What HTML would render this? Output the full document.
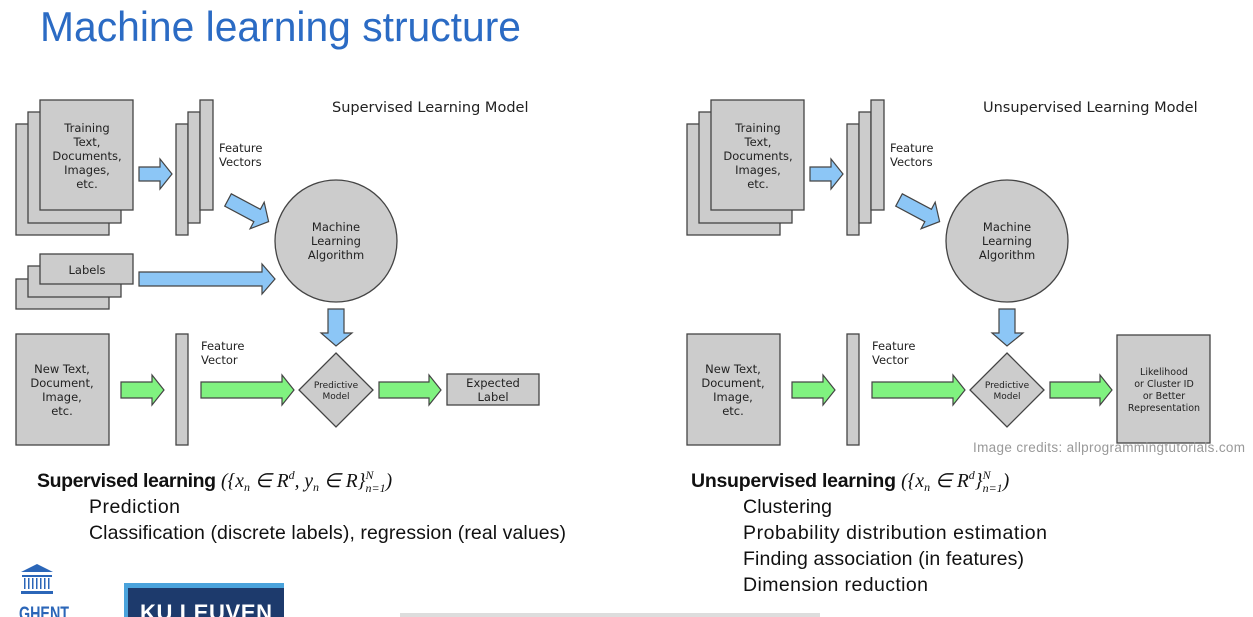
<!DOCTYPE html>
<html><head><meta charset="utf-8"><style>
html,body{margin:0;padding:0;background:#fff;width:1253px;height:617px;overflow:hidden}
svg{display:block}
.d{font-family:"DejaVu Sans",sans-serif;font-size:11.5px;fill:#222}
.b{font-family:"Liberation Sans",sans-serif;font-size:19.5px;fill:#111}
</style></head><body>
<svg width="1253" height="617" viewBox="0 0 1253 617" xmlns="http://www.w3.org/2000/svg">
<defs>
<g id="docs" fill="#ccc" stroke="#444" stroke-width="1.3">
<rect x="16" y="124" width="93" height="111"/><rect x="28" y="112" width="93" height="111"/><rect x="40" y="100" width="93" height="110"/>
<rect x="176" y="124" width="12" height="111"/><rect x="188" y="112" width="12" height="111"/><rect x="200" y="100" width="13" height="110"/>
<circle cx="336" cy="241" r="61"/>
<rect x="16" y="334" width="93" height="111"/>
<rect x="176" y="334" width="12" height="111"/>
<polygon points="336,353 373,390 336,427 299,390"/>
</g>
<g id="arr" stroke="#444" stroke-width="1.2">
<polygon fill="#8cc6f6" points="139,167 160,167 160,159 172,174 160,189 160,181 139,181"/>
<polygon fill="#8cc6f6" points="0,-7 33,-7 33,-15 46,0 33,15 33,7 0,7" transform="translate(228,200) rotate(28)"/>
<polygon fill="#8cc6f6" points="328,309 344,309 344,333 352,333 336,346 321,333 328,333"/>
<polygon fill="#80f280" points="121,382 152,382 152,375 164,390 152,405 152,398 121,398"/>
<polygon fill="#80f280" points="201,382 282,382 282,375 294,390 282,405 282,398 201,398"/>
</g>
</defs>

<text x="40" y="41" font-family="Liberation Sans,sans-serif" font-size="42" fill="#2b6bc4" textLength="481" lengthAdjust="spacingAndGlyphs">Machine learning structure</text>

<!-- left -->
<use href="#docs"/><use href="#arr"/>
<g fill="#ccc" stroke="#444" stroke-width="1.3">
<rect x="16" y="279" width="93" height="30"/><rect x="28" y="266" width="93" height="31"/><rect x="40" y="254" width="93" height="30"/>
</g>
<polygon fill="#8cc6f6" stroke="#444" stroke-width="1.2" points="139,272 262,272 262,264 275,279 262,294 262,286 139,286"/>
<polygon fill="#80f280" stroke="#444" stroke-width="1.2" points="379,382 429,382 429,375 441,390 429,405 429,398 379,398"/>
<rect x="447" y="374" width="92" height="31" fill="#ccc" stroke="#444" stroke-width="1.3"/>
<g class="d" text-anchor="middle">
<text x="87" y="132">Training</text><text x="87" y="146">Text,</text><text x="87" y="160">Documents,</text><text x="87" y="174">Images,</text><text x="87" y="188">etc.</text>
<text x="87" y="274">Labels</text>
<text x="336" y="231">Machine</text><text x="336" y="245">Learning</text><text x="336" y="259">Algorithm</text>
<text x="62" y="373">New Text,</text><text x="62" y="387">Document,</text><text x="62" y="401">Image,</text><text x="62" y="415">etc.</text>
<text x="336" y="388" font-size="9">Predictive</text><text x="336" y="399" font-size="9">Model</text>
<text x="493" y="387">Expected</text><text x="493" y="401">Label</text>
</g>
<g class="d"><text x="219" y="152">Feature</text><text x="219" y="166">Vectors</text><text x="201" y="350">Feature</text><text x="201" y="364">Vector</text>
<text x="332" y="112" font-size="14.5">Supervised Learning Model</text></g>

<!-- right -->
<g transform="translate(671,0)"><use href="#docs"/><use href="#arr"/></g>
<polygon fill="#80f280" stroke="#444" stroke-width="1.2" points="1050,382 1100,382 1100,375 1112,390 1100,405 1100,398 1050,398"/>
<rect x="1117" y="335" width="93" height="108" fill="#ccc" stroke="#444" stroke-width="1.3"/>
<g class="d" text-anchor="middle">
<text x="758" y="132">Training</text><text x="758" y="146">Text,</text><text x="758" y="160">Documents,</text><text x="758" y="174">Images,</text><text x="758" y="188">etc.</text>
<text x="1007" y="231">Machine</text><text x="1007" y="245">Learning</text><text x="1007" y="259">Algorithm</text>
<text x="733" y="373">New Text,</text><text x="733" y="387">Document,</text><text x="733" y="401">Image,</text><text x="733" y="415">etc.</text>
<text x="1007" y="388" font-size="9">Predictive</text><text x="1007" y="399" font-size="9">Model</text>
<g font-size="9.5"><text x="1164" y="375">Likelihood</text><text x="1164" y="387">or Cluster ID</text><text x="1164" y="399">or Better</text><text x="1164" y="411">Representation</text></g>
</g>
<g class="d"><text x="890" y="152">Feature</text><text x="890" y="166">Vectors</text><text x="872" y="350">Feature</text><text x="872" y="364">Vector</text>
<text x="983" y="112" font-size="14.5">Unsupervised Learning Model</text></g>
<text x="973" y="452" font-family="Liberation Sans,sans-serif" font-size="13.5" fill="#999" textLength="272">Image credits: allprogrammingtutorials.com</text>

<!-- bottom text -->
<g class="b">
<text x="37" y="487"><tspan font-weight="bold" textLength="179">Supervised learning</tspan> <tspan font-family="Liberation Serif,serif" font-style="italic">({x<tspan font-size="12" dy="4">n</tspan><tspan dy="-4"> ∈ R</tspan><tspan font-size="12" dy="-8">d</tspan><tspan dy="8">, y</tspan><tspan font-size="12" dy="4">n</tspan><tspan dy="-4"> ∈ R}</tspan><tspan font-size="12" dy="-8">N</tspan><tspan font-size="12" dx="-8" dy="13">n=1</tspan><tspan dy="-5">)</tspan></tspan></text>
<text x="89" y="513" textLength="91">Prediction</text>
<text x="89" y="539" textLength="477">Classification (discrete labels), regression (real values)</text>
<text x="691" y="487"><tspan font-weight="bold" textLength="205">Unsupervised learning</tspan> <tspan font-family="Liberation Serif,serif" font-style="italic">({x<tspan font-size="12" dy="4">n</tspan><tspan dy="-4"> ∈ R</tspan><tspan font-size="12" dy="-8">d</tspan><tspan dy="8">}</tspan><tspan font-size="12" dy="-8">N</tspan><tspan font-size="12" dx="-8" dy="13">n=1</tspan><tspan dy="-5">)</tspan></tspan></text>
<text x="743" y="513" textLength="89">Clustering</text>
<text x="743" y="539" textLength="304">Probability distribution estimation</text>
<text x="743" y="565" textLength="281">Finding association (in features)</text>
<text x="743" y="591" textLength="185">Dimension reduction</text>
</g>

<!-- logos -->
<g fill="#2b66b8">
<polygon points="21,572 37,564 53,572"/>
<rect x="22" y="575" width="30" height="2"/>
<g><rect x="24" y="578" width="1.5" height="11"/><rect x="28" y="578" width="1.5" height="11"/><rect x="32" y="578" width="1.5" height="11"/><rect x="36" y="578" width="1.5" height="11"/><rect x="40" y="578" width="1.5" height="11"/><rect x="44" y="578" width="1.5" height="11"/><rect x="48" y="578" width="1.5" height="11"/></g>
<rect x="21" y="591" width="32" height="3"/>
<text x="19" y="620" font-family="Liberation Sans,sans-serif" font-weight="bold" font-size="19" textLength="50" lengthAdjust="spacingAndGlyphs">GHENT</text>
</g>
<rect x="124" y="583" width="160" height="34" fill="#4aa3dc"/>
<rect x="128" y="588" width="156" height="29" fill="#1d3a6c"/>
<text x="140" y="620" font-family="Liberation Sans,sans-serif" font-weight="bold" font-size="22" fill="#fff" textLength="132">KU LEUVEN</text>
<rect x="400" y="613" width="420" height="4" fill="#ddd"/>
</svg>
</body></html>
